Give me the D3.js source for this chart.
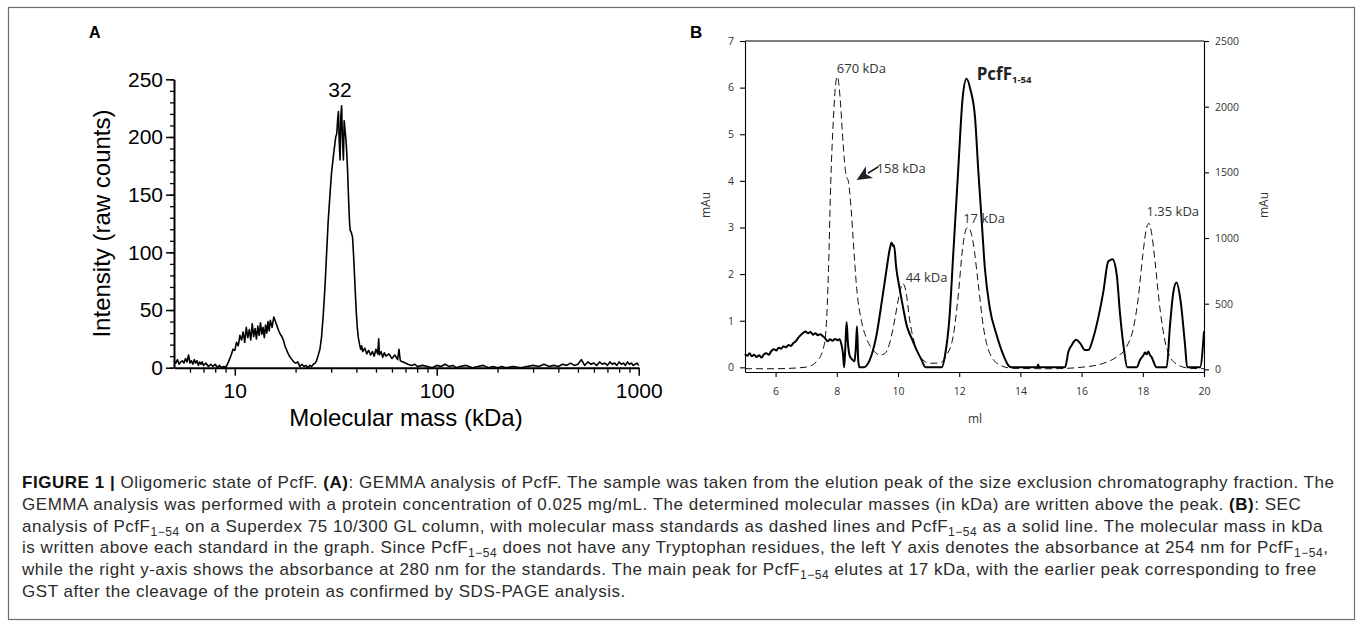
<!DOCTYPE html>
<html><head><meta charset="utf-8">
<script src="https://cdn.jsdelivr.net/npm/d3@7"></script>
<style>body{margin:0;background:#fff}svg{display:block}</style>
</head><body>
<svg id="c" width="1358" height="629"></svg>
<script>
// ---------------- Panel A : GEMMA ----------------
const gemmaPoints = [
 [5.0,6],[5.1,4],[5.2,7],[5.3,3],[5.4,5],[5.5,6],[5.6,4],[5.7,8],[5.8,5],[5.9,11],[6.0,4],[6.1,6],[6.2,3],[6.3,7],[6.4,4],[6.5,6],[6.6,2],[6.7,5],[6.8,3],[6.9,5],
 [7.0,2],[7.2,4],[7.4,1],[7.6,3],[7.8,1],[8.0,3],[8.2,0],[8.4,2],[8.6,0],[8.8,1],[9.0,0],[9.2,3],[9.4,7],[9.6,11],[9.8,16],[10.0,15],[10.2,22],[10.4,19],[10.6,28],[10.8,24],
 [11.0,31],[11.2,22],[11.4,35],[11.6,26],[11.8,33],[12.0,24],[12.2,38],[12.4,27],[12.6,34],[12.8,25],[13.0,36],[13.2,28],[13.4,39],[13.6,29],[13.8,35],[14.0,26],[14.2,37],[14.4,30],[14.6,40],[14.8,32],
 [15.0,41],[15.3,35],[15.6,44],[15.9,40],[16.2,36],[16.5,32],[16.8,29],[17.1,27],[17.4,24],[17.7,19],[18.0,16],[18.4,12],[18.8,9],[19.2,7],[19.6,5],[20.0,4],[20.5,5],[21.0,1],[21.5,3],[22.0,1],
 [22.5,2],[23.0,0],[23.5,2],[24.0,1],[24.5,3],[25.0,4],[25.4,6],[26.0,12],[26.4,16],[26.9,27],[27.4,45],[28.0,72],[28.5,100],[29.0,127],[29.6,150],[30.1,168],[30.7,182],[31.2,192],[31.6,200],[32.0,203],
 [32.3,215],[32.6,222],[32.9,196],[33.2,180],[33.5,218],[33.8,227],[34.1,200],[34.5,180],[34.8,214],[35.1,207],[35.5,198],[35.8,188],[36.2,170],[36.6,146],[37.0,126],[37.3,119],[37.8,117],[38.3,113],[38.8,95],[39.4,70],
 [39.9,50],[40.4,35],[40.9,26],[41.5,20],[42.0,16],[42.5,19],[43,14],[44,17],[45,12],[46,15],[47,11],[48,14],[49,10],[50,16],[51,12],[51.6,25],[52,11],[53,14],[54,9],[55,13],
 [56,10],[58,12],[60,8],[62,11],[64,7],[65,16],[66,6],[68,5],[70,4],[72,3],[75,2],[78,3],[80,1],[85,2],[90,1],[95,0],[100,2],[105,1],[110,3],[115,1],
 [120,2],[125,0],[130,1],[140,2],[150,0],[160,1],[170,2],[180,0],[190,1],[200,0],[210,1],[220,0],[240,1],[260,0],[280,1],[300,2],[320,1],[340,3],[360,1],[380,2],
 [400,1],[420,3],[440,2],[460,4],[480,2],[500,3],[520,7],[540,2],[560,5],[580,3],[600,4],[620,2],[640,5],[660,3],[680,4],[700,2],[720,5],[740,3],[760,4],[780,2],
 [800,5],[820,3],[840,4],[860,2],[880,5],[900,3],[920,4],[940,2],[960,3],[980,4],[1000,2]
];
const gemmaYTicks = [0,50,100,150,200,250];
const gemmaYMinorStep = 10;
const gemmaXTicks = [10,100,1000];
const gemmaXMinor = [6,7,8,9,20,30,40,50,60,70,80,90,200,300,400,500,600,700,800,900];
const gemmaPeakLabel = {text:"32", mass:33.2, value:235};

// ---------------- Panel B : SEC ----------------
const pcfPoints = [
 [5.00,0.29],[5.08,0.25],[5.15,0.30],[5.22,0.24],[5.30,0.27],[5.38,0.22],[5.46,0.26],[5.54,0.21],[5.62,0.28],[5.70,0.30],[5.78,0.27],[5.86,0.35],[5.94,0.39],[6.02,0.36],[6.10,0.42],[6.18,0.40],
 [6.26,0.45],[6.34,0.43],[6.42,0.48],[6.50,0.46],[6.58,0.52],[6.66,0.56],[6.74,0.63],[6.82,0.69],[6.90,0.74],[6.98,0.77],[7.06,0.73],[7.14,0.76],[7.22,0.70],[7.30,0.73],[7.38,0.69],[7.46,0.71],
 [7.54,0.67],[7.62,0.62],[7.70,0.56],[7.78,0.60],[7.86,0.57],[7.94,0.61],[8.02,0.58],[8.08,0.60],[8.14,0.52],[8.20,0.30],[8.24,0.0],[8.28,0.45],[8.32,0.97],[8.36,0.55],[8.42,0.25],[8.50,0.17],
 [8.58,0.13],[8.62,0.40],[8.66,0.88],[8.70,0.15],[8.74,0.0],[8.90,0.0],[9.00,0.06],[9.14,0.27],[9.30,0.70],[9.47,1.41],[9.63,2.12],[9.72,2.50],[9.79,2.68],[9.84,2.60],[9.87,2.62],[9.94,2.15],
 [10.05,1.70],[10.17,1.27],[10.28,0.91],[10.44,0.63],[10.61,0.37],[10.77,0.16],[10.90,0.0],[11.43,0.0],[11.54,0.27],[11.68,1.05],[11.81,2.48],[11.97,4.26],[12.11,5.76],[12.24,6.19],[12.37,5.95],[12.52,5.34],
 [12.62,4.26],[12.73,3.19],[12.84,2.12],[13.00,1.27],[13.22,0.70],[13.44,0.27],[13.60,0.05],[13.72,0.0],[14.55,0.0],[14.58,0.06],[14.61,0.0],[15.46,0.0],[15.57,0.34],[15.68,0.48],[15.82,0.59],[15.95,0.52],
 [16.11,0.37],[16.22,0.37],[16.38,0.63],[16.54,1.05],[16.71,1.62],[16.87,2.27],[17.01,2.32],[17.15,1.98],[17.25,1.19],[17.38,0.41],[17.49,0.0],[17.80,0.0],[17.91,0.16],[18.02,0.26],[18.07,0.32],[18.13,0.28],
 [18.18,0.34],[18.23,0.27],[18.28,0.23],[18.45,0.0],[18.78,0.0],[18.89,0.91],[19.00,1.62],[19.10,1.82],[19.24,1.40],[19.38,0.48],[19.45,0.0],[19.87,0.0],[20.00,0.77]
];
const standardPoints = [
 [5.0,5],[6.0,5],[6.47,8],[7.02,18],[7.34,60],[7.56,160],[7.65,312],[7.73,769],[7.80,1404],[7.89,1912],[7.97,2190],[8.02,2229],[8.10,2089],[8.21,1708],[8.30,1480],[8.38,1429],
 [8.45,1276],[8.54,972],[8.65,617],[8.81,363],[8.97,236],[9.19,147],[9.41,109],[9.58,122],[9.74,210],[9.90,388],[10.04,566],[10.15,655],[10.25,604],[10.39,363],[10.56,185],[10.77,84],
 [11.04,46],[11.37,50],[11.59,109],[11.81,261],[11.97,566],[12.11,921],[12.24,1074],[12.30,1080],[12.46,960],[12.62,655],[12.79,324],[13.00,122],[13.33,33],[13.76,8],[15.00,5],[16.17,20],
 [16.71,46],[17.15,96],[17.47,172],[17.69,312],[17.85,541],[18.00,870],[18.12,1074],[18.20,1112],[18.28,1048],[18.40,819],[18.56,465],[18.73,210],[18.89,96],[19.16,33],[19.54,8],[20.00,5]
];
const secXTicks = [6,8,10,12,14,16,18,20];
const secLeftTicks = [0,1,2,3,4,5,6,7];
const secRightTicks = [0,500,1000,1500,2000,2500];
const stdLabelText = ["670 kDa","158 kDa","44 kDa","17 kDa","1.35 kDa"];
const stdLabelVolume = [8.0, 9.30, 10.25, 12.13, 18.12];
const stdLabelAbs = [2259, 1498, 668, 1117, 1168];
const arrowFrom = [9.36, 1543];
const arrowTo = [8.65, 1442];
const pcfLabel = {main:"PcfF", sub:"1-54", volume:12.57, value:6.16};

// ---------------- Caption ----------------
const captionLines = [
 [["FIGURE 1 |","b"],[" Oligomeric state of PcfF. ",""],["(A)","b"],[": GEMMA analysis of PcfF. The sample was taken from the elution peak of the size exclusion chromatography fraction. The",""]],
 [["GEMMA analysis was performed with a protein concentration of 0.025 mg/mL. The determined molecular masses (in kDa) are written above the peak. ",""],["(B)","b"],[": SEC",""]],
 [["analysis of PcfF",""],["1\u221254","s"],[" on a Superdex 75 10/300 GL column, with molecular mass standards as dashed lines and PcfF",""],["1\u221254","s"],[" as a solid line. The molecular mass in kDa",""]],
 [["is written above each standard in the graph. Since PcfF",""],["1\u221254","s"],[" does not have any Tryptophan residues, the left Y axis denotes the absorbance at 254 nm for PcfF",""],["1\u221254","s"],[",",""]],
 [["while the right y-axis shows the absorbance at 280 nm for the standards. The main peak for PcfF",""],["1\u221254","s"],[" elutes at 17 kDa, with the earlier peak corresponding to free",""]],
 [["GST after the cleavage of the protein as confirmed by SDS-PAGE analysis.",""]]
];

const svg = d3.select("#c");
svg.append("rect").attr("x",8.5).attr("y",7.5).attr("width",1346).attr("height",612)
  .attr("fill","none").attr("stroke","#6e6e6e").attr("stroke-width",1.2);

// ======== Panel A ========
const fA = "'Liberation Sans', Arial, Helvetica, sans-serif";
const xA = d3.scaleLog().domain([5,1000]).range([174,638.7]);
const yA = d3.scaleLinear().domain([0,250]).range([367.7,79.3]);
const gA = svg.append("g").attr("font-family",fA);

gA.append("text").attr("x",89).attr("y",38).attr("font-size",16).attr("font-weight","bold").text("A");

gA.append("g").attr("transform","translate(174,0)")
  .call(d3.axisLeft(yA).tickValues(d3.range(0,250+1,gemmaYMinorStep)).tickSize(4).tickFormat(""))
  .call(g=>g.select(".domain").remove())
  .call(g=>g.selectAll("line").attr("stroke-width",1.3));
gA.append("g").attr("transform","translate(174,0)")
  .call(d3.axisLeft(yA).tickValues(gemmaYTicks).tickSize(8).tickSizeOuter(0).tickPadding(3))
  .call(g=>g.select(".domain").attr("stroke-width",2))
  .call(g=>g.selectAll("line").attr("stroke-width",1.5))
  .call(g=>g.selectAll("text").attr("font-size",21).attr("font-family",fA).attr("fill","#000"));

gA.append("g").attr("transform","translate(0,367.7)")
  .call(d3.axisBottom(xA).tickValues(gemmaXMinor).tickSize(5).tickFormat(""))
  .call(g=>g.select(".domain").remove())
  .call(g=>g.selectAll("line").attr("stroke-width",1.3));
gA.append("g").attr("transform","translate(0,367.7)")
  .call(d3.axisBottom(xA).tickValues(gemmaXTicks).tickFormat(d3.format("d")).tickSize(8).tickSizeOuter(0).tickPadding(7))
  .call(g=>g.select(".domain").attr("stroke-width",2))
  .call(g=>g.selectAll("line").attr("stroke-width",1.5))
  .call(g=>g.selectAll("text").attr("font-size",21).attr("font-family",fA).attr("fill","#000"));

gA.append("path").datum(gemmaPoints)
  .attr("fill","none").attr("stroke","#000").attr("stroke-width",1.6).attr("stroke-linejoin","round")
  .attr("d",d3.line().x(d=>xA(d[0])).y(d=>yA(d[1])));

gA.append("text").attr("x",xA(gemmaPeakLabel.mass)).attr("y",yA(gemmaPeakLabel.value))
  .attr("text-anchor","middle").attr("font-size",21).text(gemmaPeakLabel.text);

gA.append("text").attr("transform","translate(110,223.5) rotate(-90)").attr("text-anchor","middle")
  .attr("font-size",24).text("Intensity (raw counts)");
gA.append("text").attr("x",406).attr("y",426).attr("text-anchor","middle")
  .attr("font-size",24).text("Molecular mass (kDa)");

// ======== Panel B ========
const fB = "'Open Sans', 'Noto Sans', sans-serif";
const xB = d3.scaleLinear().domain([5,20]).range([745,1204]);
const yL = d3.scaleLinear().domain([-0.1,7]).range([372,41]);
const yR = d3.scaleLinear().domain([-20,2500]).range([372,41]);
const gB = svg.append("g").attr("font-family",fB);

gB.append("text").attr("x",690).attr("y",38).attr("font-size",17).attr("font-weight","bold")
  .attr("font-family",fA).text("B");

function styleB(g){
  g.select(".domain").attr("stroke-width",1.1);
  g.selectAll("line").attr("stroke-width",1.1);
  g.selectAll("text").attr("font-size",10.5).attr("font-family",fB).attr("fill","#333");
}
gB.append("g").attr("transform","translate(745,0)")
  .call(d3.axisLeft(yL).tickValues(secLeftTicks).tickFormat(d3.format("d")).tickSize(5).tickSizeOuter(0).tickPadding(6)).call(styleB);
gB.append("g").attr("transform","translate(1204,0)")
  .call(d3.axisRight(yR).tickValues(secRightTicks).tickFormat(d3.format("d")).tickSize(5).tickSizeOuter(0).tickPadding(6)).call(styleB);
gB.append("g").attr("transform","translate(0,372)")
  .call(d3.axisBottom(xB).tickValues(secXTicks).tickFormat(d3.format("d")).tickSize(5).tickSizeOuter(0).tickPadding(11)).call(styleB);
gB.append("line").attr("x1",xB(5)).attr("x2",xB(20)).attr("y1",yL(7)).attr("y2",yL(7))
  .attr("stroke","#000").attr("stroke-width",1.1);

gB.append("path").datum(standardPoints)
  .attr("fill","none").attr("stroke","#111").attr("stroke-width",1).attr("stroke-dasharray","7,4")
  .attr("d",d3.line().curve(d3.curveMonotoneX).x(d=>xB(d[0])).y(d=>yR(d[1])));
gB.append("path").datum(pcfPoints)
  .attr("fill","none").attr("stroke","#000").attr("stroke-width",2).attr("stroke-linejoin","round")
  .attr("d",d3.line().curve(d3.curveMonotoneX).x(d=>xB(d[0])).y(d=>yL(d[1])));

stdLabelText.forEach((t,i)=>{
  gB.append("text").attr("x",xB(stdLabelVolume[i])).attr("y",yR(stdLabelAbs[i]))
    .attr("font-size",13).attr("fill","#333").text(t);
});

// arrow
{
  const x1=xB(arrowFrom[0]), y1=yR(arrowFrom[1]), x2=xB(arrowTo[0]), y2=yR(arrowTo[1]);
  const dx=x2-x1, dy=y2-y1, L=Math.hypot(dx,dy), ux=dx/L, uy=dy/L;
  const hl=15, hw=7;
  const bx=x2-ux*hl, by=y2-uy*hl;
  gB.append("line").attr("x1",x1).attr("y1",y1).attr("x2",bx+ux*2).attr("y2",by+uy*2)
    .attr("stroke","#222").attr("stroke-width",1.6);
  gB.append("path").attr("fill","#222")
    .attr("d",`M${x2},${y2}L${bx-uy*hw},${by+ux*hw}L${bx+ux*4},${by+uy*4}L${bx+uy*hw},${by-ux*hw}Z`);
}

const pl = gB.append("text").attr("x",xB(pcfLabel.volume)).attr("y",yL(pcfLabel.value))
  .attr("font-weight","bold").attr("fill","#222");
pl.append("tspan").attr("font-size",17).text(pcfLabel.main);
pl.append("tspan").attr("font-size",9.5).attr("dy",3).text(pcfLabel.sub);

gB.append("text").attr("transform","translate(710,205) rotate(-90)").attr("text-anchor","middle")
  .attr("font-size",12).attr("fill","#333").text("mAu");
gB.append("text").attr("transform","translate(1268,205) rotate(-90)").attr("text-anchor","middle")
  .attr("font-size",12).attr("fill","#333").text("mAu");
gB.append("text").attr("x",975).attr("y",423).attr("text-anchor","middle")
  .attr("font-size",12).attr("fill","#333").text("ml");

// ======== Caption ========
const capG = svg.append("g").attr("font-family",fA).attr("font-size",17).attr("fill","#2b2b2b");
const capNodes = captionLines.map((parts,i)=>{
  const t = capG.append("text").attr("x",22).attr("y",488.3+i*21.7);
  let shifted=false;
  parts.forEach(([s,k])=>{
    const ts = t.append("tspan").text(s);
    if(k==="b"){ts.attr("font-weight","bold").attr("fill","#111");}
    if(k==="s"){ts.attr("font-size",12).attr("dy",4); shifted=true;}
    else if(shifted){ts.attr("dy",-4); shifted=false;}
  });
  return t;
});
const n0 = capNodes[0].node();
const w0 = n0.getComputedTextLength();
const chars0 = n0.textContent.length;
const ls = (1312 - w0)/(chars0-1);
capNodes.forEach(t=>t.style("letter-spacing",ls+"px"));
</script>
</body></html>
